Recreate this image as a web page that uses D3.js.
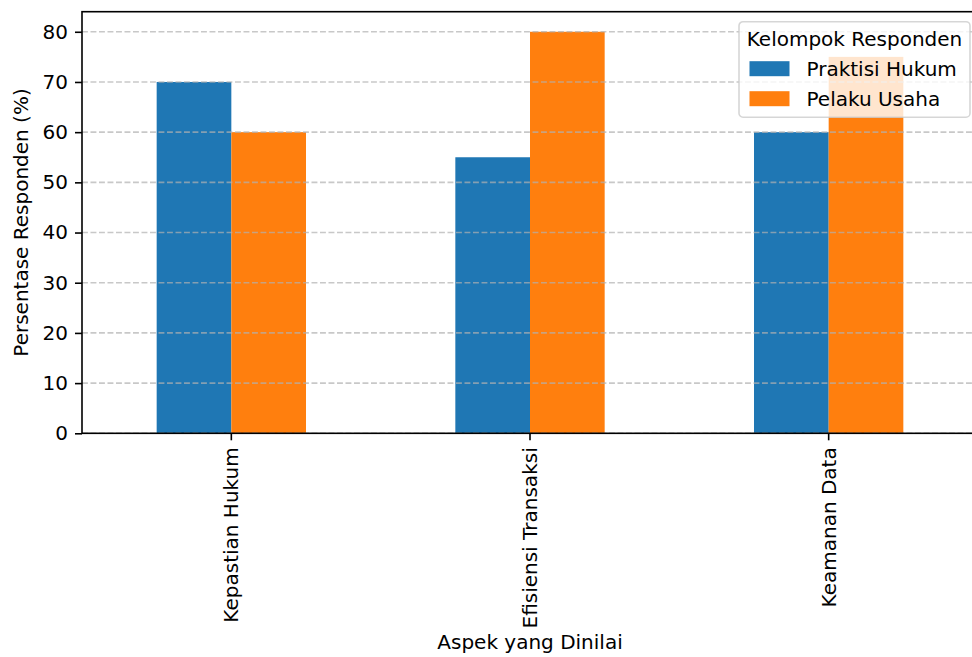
<!DOCTYPE html>
<html>
<head>
<meta charset="utf-8">
<script src="https://cdn.jsdelivr.net/npm/d3@7"></script>
<style>
    body { margin: 0; background: #fff; }
    svg { display: block; font-family: "DejaVu Sans", sans-serif; }
    .axis text { font-family: "DejaVu Sans", sans-serif; font-size: 20px; fill: #000; }
    .axis path, .axis line { stroke: #000; stroke-width: 1.6; }
</style>
</head>
<body>
<svg id="chart"></svg>
<script>
// 数据
var categories = ['Kepastian Hukum', 'Efisiensi Transaksi', 'Keamanan Data'];
var seriesNames = ['Praktisi Hukum', 'Pelaku Usaha'];
var praktisiHukum = [70, 55, 60];
var pelakuUsaha = [60, 80, 75];
var yTicks = [0, 10, 20, 30, 40, 50, 60, 70, 80];
var colors = ['#1f77b4', '#ff7f0e'];

function drawGroupedBar(selector) {
    // svg的宽高
    var svgWidth = 972,
        svgHeight = 657;
    // 绘图区域（右边框超出画布）
    var plot = {left: 82, right: 978, top: 11.7, bottom: 433.3};
    var svg = d3.select(selector)
        .attr('width', svgWidth)
        .attr('height', svgHeight);

    var series = [praktisiHukum, pelakuUsaha];

    // 比例尺
    var x = d3.scaleBand()
        .domain(categories)
        .range([plot.left, plot.right])
        .paddingInner(0.5)
        .paddingOuter(0.25);
    var xSub = d3.scaleBand()
        .domain(seriesNames)
        .range([0, x.bandwidth()]);
    var y = d3.scaleLinear()
        .domain([0, 84])
        .range([plot.bottom, plot.top]);

    // 柱形
    var groups = svg.selectAll('.group')
        .data(categories)
        .enter()
        .append('g')
        .attr('class', 'group')
        .attr('transform', function(d) {
            return 'translate(' + x(d) + ', 0)';
        });
    groups.selectAll('rect')
        .data(function(d, i) {
            return series.map(function(s, j) {
                return {name: seriesNames[j], value: s[i], idx: j};
            });
        })
        .enter()
        .append('rect')
        .attr('x', function(d) { return xSub(d.name); })
        .attr('y', function(d) { return y(d.value); })
        .attr('width', xSub.bandwidth())
        .attr('height', function(d) { return y(0) - y(d.value); })
        .attr('fill', function(d) { return colors[d.idx]; });

    // 网格线
    svg.append('g')
        .selectAll('line')
        .data(yTicks)
        .enter()
        .append('line')
        .attr('x1', plot.left)
        .attr('x2', plot.right)
        .attr('y1', function(d) { return y(d); })
        .attr('y2', function(d) { return y(d); })
        .attr('stroke', '#b0b0b0')
        .attr('stroke-opacity', 0.7)
        .attr('stroke-width', 1.6)
        .attr('stroke-dasharray', '5.9,2.6');

    // x轴
    var xAxis = d3.axisBottom(x)
        .tickSize(7)
        .tickPadding(7)
        .tickSizeOuter(0);
    var gx = svg.append('g')
        .attr('class', 'axis')
        .attr('transform', 'translate(0, ' + plot.bottom + ')')
        .call(xAxis);
    gx.select('.domain').remove();
    gx.selectAll('.tick text')
        .attr('transform', 'rotate(-90)')
        .attr('text-anchor', 'end')
        .attr('x', -14)
        .attr('y', 0)
        .attr('dy', '0.35em');

    // y轴
    var yAxis = d3.axisLeft(y)
        .tickValues(yTicks)
        .tickSize(7)
        .tickPadding(7)
        .tickSizeOuter(0);
    var gy = svg.append('g')
        .attr('class', 'axis')
        .attr('transform', 'translate(' + plot.left + ', 0)')
        .call(yAxis);
    gy.select('.domain').remove();

    // 边框
    svg.append('rect')
        .attr('x', plot.left)
        .attr('y', plot.top)
        .attr('width', plot.right - plot.left)
        .attr('height', plot.bottom - plot.top)
        .attr('fill', 'none')
        .attr('stroke', '#000')
        .attr('stroke-width', 1.6);

    // 轴标题
    svg.append('text')
        .attr('x', (plot.left + plot.right) / 2)
        .attr('y', 649)
        .attr('text-anchor', 'middle')
        .style('font-size', '20px')
        .text('Aspek yang Dinilai');
    svg.append('text')
        .attr('transform', 'translate(28, ' + (plot.top + plot.bottom) / 2 + ') rotate(-90)')
        .attr('text-anchor', 'middle')
        .style('font-size', '20px')
        .text('Persentase Responden (%)');

    // 图例
    var legend = svg.append('g')
        .attr('transform', 'translate(739, 21.7)');
    legend.append('rect')
        .attr('width', 231)
        .attr('height', 95.5)
        .attr('rx', 4)
        .attr('fill', '#fff')
        .attr('fill-opacity', 0.8)
        .attr('stroke', '#cccccc')
        .attr('stroke-opacity', 0.8)
        .attr('stroke-width', 1.6);
    legend.append('text')
        .attr('x', 115.5)
        .attr('y', 24.5)
        .attr('text-anchor', 'middle')
        .style('font-size', '20px')
        .text('Kelompok Responden');
    var items = legend.selectAll('.legend-item')
        .data(seriesNames)
        .enter()
        .append('g')
        .attr('class', 'legend-item')
        .attr('transform', function(d, i) {
            return 'translate(10.5, ' + (39.5 + i * 30) + ')';
        });
    items.append('rect')
        .attr('width', 40)
        .attr('height', 15)
        .attr('fill', function(d, i) { return colors[i]; });
    items.append('text')
        .attr('x', 57)
        .attr('y', 15)
        .style('font-size', '20px')
        .text(function(d) { return d; });
}
drawGroupedBar('#chart');
</script>
</body>
</html>
